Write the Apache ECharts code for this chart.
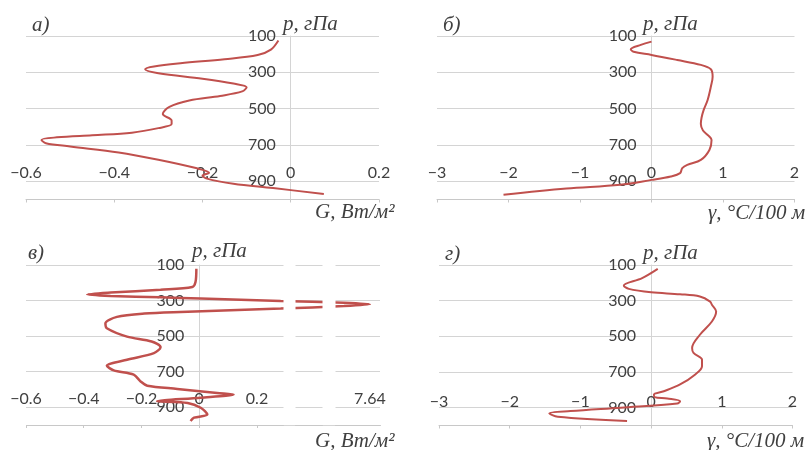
<!DOCTYPE html>
<html>
<head>
<meta charset="utf-8">
<script src="https://cdn.jsdelivr.net/npm/echarts@6.0.0/dist/echarts.min.js"></script>
<style>
  html, body { margin: 0; padding: 0; background: #fff; }
  #chart { width: 807px; height: 450px; }
</style>
</head>
<body>
<div id="chart"></div>
<script>
// профили по давлению (p, гПа) -- а), б), в), г)
var pA = [125, 175, 205, 228, 250, 268, 283, 305, 335, 362, 382, 405, 430, 455, 490, 530, 565, 585, 607, 632, 646, 658, 672, 690, 708, 741, 781, 827, 853, 868, 885, 913, 937, 970];
var gA = [-0.028, -0.045, -0.075, -0.15, -0.25, -0.31, -0.33, -0.30, -0.2, -0.13, -0.10, -0.11, -0.16, -0.23, -0.275, -0.29, -0.27, -0.27, -0.30, -0.36, -0.45, -0.53, -0.565, -0.555, -0.5, -0.39, -0.3, -0.215, -0.185, -0.2, -0.19, -0.13, -0.04, 0.075];

var pB = [131, 149, 173, 187, 204, 232, 259, 283, 324, 379, 452, 507, 550, 585, 620, 650, 672, 727, 782, 809, 827, 855, 873, 892, 919, 940, 974];
var gB = [0, -0.15, -0.29, -0.25, 0, 0.36, 0.69, 0.83, 0.855, 0.83, 0.785, 0.73, 0.70, 0.69, 0.72, 0.80, 0.84, 0.81, 0.69, 0.50, 0.43, 0.40, 0.27, 0, -0.44, -1.19, -2.07];

var pC = [121, 196, 224, 239, 255, 266, 274, 282, 288, 302, 312, 321, 331, 345, 364, 373, 392, 428, 456, 503, 530, 562, 596, 633, 667, 693, 717, 755, 779, 797, 820, 829, 847, 866, 876, 903, 941, 959, 978];
var gC = [-0.010, -0.013, -0.024, -0.134, -0.307, -0.388, -0.307, -0.134, 0.005, 0.282, 7.55, 7.64, 7.55, 0.282, -0.065, -0.19, -0.285, -0.325, -0.32, -0.25, -0.165, -0.134, -0.157, -0.25, -0.32, -0.296, -0.227, -0.203, -0.18, -0.076, 0.062, 0.119, 0.005, -0.146, -0.04, 0.005, 0.028, -0.018, -0.03];

var pD = [122, 174, 216, 234, 253, 264, 277, 305, 323, 361, 417, 491, 565, 593, 631, 668, 715, 770, 808, 826, 841, 849, 864, 877, 900, 919, 932, 951, 975];
var gD = [0.094, -0.127, -0.386, -0.315, 0, 0.41, 0.69, 0.835, 0.86, 0.92, 0.86, 0.69, 0.58, 0.60, 0.72, 0.72, 0.62, 0.41, 0.18, 0.04, 0.05, 0.23, 0.41, 0.37, -0.43, -1.14, -1.44, -1.32, -0.34];

// подписи шкал
var gLabelsC = [-0.6, -0.4, -0.2, 0, 0.2, 7.64];
var gTicksC = [-0.6, -0.4, -0.2, 0, 0.2];
var breaksC = [
	{ start: 0.29, end: 3.9, gap: 0.042 },
	{ start: 3.994, end: 7.52, gap: 0.045 }
];

var grids = [
	{ left: 26, top: 36, width: 353, height: 163.5, outerBoundsMode: 'none' },
	{ left: 437, top: 36, width: 357.5, height: 163.5, outerBoundsMode: 'none' },
	{ left: 26, top: 265, width: 354, height: 160, outerBoundsMode: 'none' },
	{ left: 439, top: 265, width: 353.5, height: 160.5, outerBoundsMode: 'none' }
];

function pairs(xs, ps) {
	var out = [];
	for (var i = 0; i < xs.length; i++) {
		out.push([xs[i], ps[i]]);
	}
	return out;
}

function minus(v) {
	return String(v).replace('-', '\u2212');
}

// где ось p пересекает ноль (с учётом разрывов)
function zeroOffset(idx, mn, mx, brk) {
	var span = mx - mn;
	if (brk) {
		for (var i = 0; i < brk.length; i++) {
			span -= (brk[i].end - brk[i].start) - brk[i].gap;
		}
	}
	return -grids[idx].width * (0 - mn) / span;
}

var serif = 'italic 21px "Liberation Serif"';

function yAx(idx, offset) {
	return {
		gridIndex: idx, type: 'value', inverse: true, position: 'left', offset: offset,
		min: 100, max: 1000, interval: 200,
		axisLine: { show: true, onZero: false, lineStyle: { color: '#d4d4d4', width: 1 } },
		axisTick: { show: false },
		axisLabel: { margin: 15, showMaxLabel: false, fontFamily: 'Lato', fontSize: 16, color: '#404040' },
		splitLine: { show: true, lineStyle: { color: '#d4d4d4', width: 1 } }
	};
}

function xAx(idx, mn, mx, step, margin) {
	return {
		gridIndex: idx, type: 'value', min: mn, max: mx, interval: step,
		axisLine: { show: true, onZero: false, lineStyle: { color: '#c8c8c8' } },
		axisTick: { show: true, length: 3, lineStyle: { color: '#c8c8c8' } },
		axisLabel: { inside: true, margin: margin, fontFamily: 'Lato', fontSize: 16, color: '#404040',
			formatter: function (v) { return minus(v); } },
		splitLine: { show: false }
	};
}

var xC = xAx(2, -0.6, 7.675, 0.2, 18);
xC.interval = undefined;
xC.breaks = breaksC;
xC.breakArea = {
	show: true,
	itemStyle: { color: '#fff', borderColor: '#fff', borderWidth: 0, opacity: 1 },
	zigzagAmplitude: 0,
	zigzagZ: 100,
	expandOnClick: false
};
xC.axisLabel.customValues = gLabelsC;
xC.axisTick.customValues = gTicksC;

function txt(x, y, s) {
	return { type: 'text', left: x, top: y, style: { text: s, font: serif, fill: '#404040' } };
}

var myChart = echarts.init(document.getElementById('chart'), null, { renderer: 'canvas' });
window.onresize = myChart.resize;

var option = {
	animation: false,
	grid: grids,
	xAxis: [
		xAx(0, -0.6, 0.2, 0.2, 19),
		xAx(1, -3, 2, 1, 19),
		xC,
		xAx(3, -3, 2, 1, 16)
	],
	yAxis: [
		yAx(0, zeroOffset(0, -0.6, 0.2)),
		yAx(1, zeroOffset(1, -3, 2)),
		yAx(2, zeroOffset(2, -0.6, 7.675, breaksC)),
		yAx(3, zeroOffset(3, -3, 2))
	],
	graphic: [
		txt(32, 15, 'а)'), txt(283, 14, 'p, гПа'), txt(315, 202, 'G, Вт/м²'),
		txt(443, 15, 'б)'), txt(643, 14, 'p, гПа'), txt(708, 203, 'γ, °C/100 м'),
		txt(28, 243, 'в)'), txt(192, 241, 'p, гПа'), txt(315, 431, 'G, Вт/м²'),
		txt(445, 244, 'г)'), txt(643, 243, 'p, гПа'), txt(707, 431, 'γ, °C/100 м')
	],
	series: [
		{ type: 'line', xAxisIndex: 0, yAxisIndex: 0, data: pairs(gA, pA), smooth: 0.35, showSymbol: false,
			lineStyle: { color: '#c0504d', width: 2 } },
		{ type: 'line', xAxisIndex: 1, yAxisIndex: 1, data: pairs(gB, pB), smooth: 0.35, showSymbol: false,
			lineStyle: { color: '#c0504d', width: 2 } },
		{ type: 'line', xAxisIndex: 2, yAxisIndex: 2, data: pairs(gC, pC), smooth: 0.3, showSymbol: false,
			lineStyle: { color: '#c0504d', width: 2.5 } },
		{ type: 'line', xAxisIndex: 3, yAxisIndex: 3, data: pairs(gD, pD), smooth: 0.35, showSymbol: false,
			lineStyle: { color: '#c0504d', width: 2 } }
	]
};
myChart.setOption(option);
</script>
</body>
</html>
